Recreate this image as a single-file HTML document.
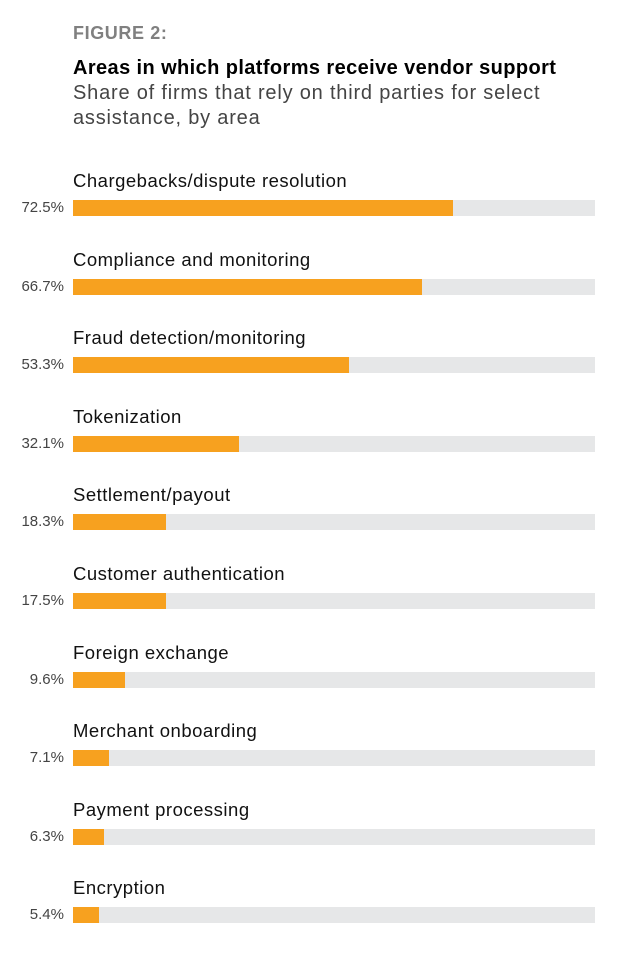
<!DOCTYPE html>
<html><head><meta charset="utf-8"><style>
body{margin:0;width:627px;height:954px;background:#fff;position:relative;font-family:"Liberation Sans",sans-serif;overflow:hidden}
.a{position:absolute;white-space:nowrap}
.fig{left:73px;top:23px;font-size:18px;font-weight:bold;color:#808080;letter-spacing:0.6px}
.t{left:73px;top:57px;font-size:20px;font-weight:bold;color:#000;letter-spacing:0.4px}
.s{left:73px;top:81px;font-size:20px;color:#444;line-height:25px;letter-spacing:0.8px}
.l{left:73px;font-size:18.5px;color:#111;letter-spacing:0.5px}
.p{right:563px;font-size:15px;color:#444}
.bg{left:73px;width:522px;height:16px;background:#e6e7e8}
.f{left:73px;height:16px;background:#f7a11f}
</style></head><body>
<div class="a fig">FIGURE 2:</div>
<div class="a t">Areas in which platforms receive vendor support</div>
<div class="a s">Share of firms that rely on third parties for select<br>assistance, by area</div>
<div id="c"></div>
<script>
var d=[["Chargebacks/dispute resolution","72.5%",380],["Compliance and monitoring","66.7%",349],["Fraud detection/monitoring","53.3%",276],["Tokenization","32.1%",166],["Settlement/payout","18.3%",93],["Customer authentication","17.5%",93],["Foreign exchange","9.6%",52],["Merchant onboarding","7.1%",36],["Payment processing","6.3%",31],["Encryption","5.4%",26]];
var h="";d.forEach(function(r,i){var y=200+i*78.6;
h+='<div class="a l" style="top:'+(y-30)+'px">'+r[0]+'</div><div class="a p" style="top:'+(y-1)+'px">'+r[1]+'</div><div class="a bg" style="top:'+y+'px"></div><div class="a f" style="top:'+y+'px;width:'+r[2]+'px"></div>';});
document.getElementById("c").innerHTML=h;
</script>
</body></html>
